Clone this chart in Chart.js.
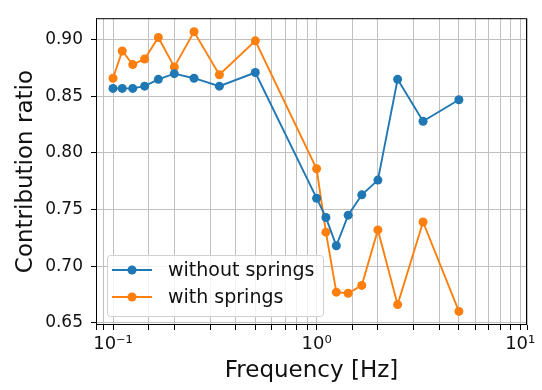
<!DOCTYPE html>
<html>
<head>
    <script src="https://cdn.jsdelivr.net/npm/chart.js"></script>
    <style>
        body { margin: 0; background: #fff; }
        #wrap { width: 542px; height: 390px; }
    </style>
</head>
<body>
<div id="wrap"><canvas id="chart" width="542" height="390"></canvas></div>

<script>
    // data
    var freq = [0.1, 0.111, 0.125, 0.143, 0.167, 0.2, 0.25, 0.333, 0.5, 1.0, 1.111, 1.25, 1.429, 1.667, 2.0, 2.5, 3.333, 5.0];
    var withoutSprings = [0.857, 0.857, 0.857, 0.859, 0.865, 0.870, 0.866, 0.859, 0.871, 0.760, 0.743, 0.718, 0.745, 0.763, 0.776, 0.865, 0.828, 0.847];
    var withSprings = [0.866, 0.890, 0.878, 0.883, 0.902, 0.876, 0.907, 0.869, 0.899, 0.786, 0.730, 0.677, 0.676, 0.683, 0.732, 0.666, 0.739, 0.660];
    var seriesNames = ['without springs', 'with springs'];
    var colors = ['#1f77b4', '#ff7f0e'];
    var xMajorLabels = { '0.1': '10⁻¹', '1': '10⁰', '10': '10¹' };

    var font = 'DejaVu Sans';

    function pts(ys) {
        return freq.map(function (f, i) { return { x: f, y: ys[i] }; });
    }

    // frame + legend drawn inside plot area like matplotlib
    var framePlugin = {
        id: 'frame',
        afterDraw: function (chart) {
            var ctx = chart.ctx, a = chart.chartArea;
            ctx.save();
            ctx.strokeStyle = '#000';
            ctx.lineWidth = 1;
            ctx.strokeRect(a.left + 0.5, a.top + 0.5, a.right - a.left - 1, a.bottom - a.top - 1);

            // legend box
            var bx = 107, by = 255, bw = 216, bh = 61;
            ctx.fillStyle = 'rgba(255,255,255,0.8)';
            ctx.strokeStyle = '#d0d0d0';
            ctx.beginPath();
            ctx.roundRect(bx + 0.5, by + 0.5, bw, bh, 3);
            ctx.fill();
            ctx.stroke();
            ctx.font = '19px "' + font + '"';
            ctx.textBaseline = 'middle';
            for (var i = 0; i < seriesNames.length; i++) {
                var cy = by + 15 + i * 27;
                ctx.strokeStyle = colors[i];
                ctx.lineWidth = 1.8;
                ctx.beginPath();
                ctx.moveTo(112, cy);
                ctx.lineTo(152, cy);
                ctx.stroke();
                ctx.fillStyle = colors[i];
                ctx.beginPath();
                ctx.arc(132, cy, 4.5, 0, Math.PI * 2);
                ctx.fill();
                ctx.fillStyle = '#111';
                ctx.fillText(seriesNames[i], 168, cy + 1);
            }
            ctx.restore();
        }
    };

    var ctx = document.getElementById('chart').getContext('2d');
    var chart = new Chart(ctx, {
        type: 'line',
        data: {
            datasets: [
                { label: seriesNames[0], data: pts(withoutSprings), borderColor: colors[0], backgroundColor: colors[0],
                  borderWidth: 1.9, pointRadius: 4.5, pointBorderWidth: 0, tension: 0 },
                { label: seriesNames[1], data: pts(withSprings), borderColor: colors[1], backgroundColor: colors[1],
                  borderWidth: 1.9, pointRadius: 4.5, pointBorderWidth: 0, tension: 0 }
            ]
        },
        options: {
            responsive: false,
            animation: false,
            layout: { padding: { top: 4, right: 15, left: 0, bottom: 0 } },
            plugins: { legend: { display: false }, tooltip: { enabled: false } },
            scales: {
                x: {
                    type: 'logarithmic',
                    min: 0.0825,
                    max: 10.8,
                    grid: { color: '#c0c0c0', tickColor: '#000', tickLength: 5, lineWidth: 1 },
                    border: { display: false },
                    ticks: {
                        autoSkip: false,
                        maxRotation: 0,
                        padding: 4,
                        color: '#111',
                        font: { family: font, size: 18 },
                        callback: function (v) {
                            var k = String(Math.round(v * 1000) / 1000);
                            return xMajorLabels[k] || '';
                        }
                    },
                    title: { display: true, text: 'Frequency [Hz]', color: '#111',
                             font: { family: font, size: 23 }, padding: { top: 0, bottom: 5 } },
                    afterFit: function (s) { s.height = 65; }
                },
                y: {
                    min: 0.648,
                    max: 0.919,
                    grid: { color: '#c0c0c0', tickColor: '#000', tickLength: 5 },
                    border: { display: false },
                    ticks: {
                        stepSize: 0.05,
                        includeBounds: false,
                        padding: 8,
                        color: '#111',
                        font: { family: font, size: 17 },
                        callback: function (v) { return v.toFixed(2); }
                    },
                    title: { display: true, text: 'Contribution ratio', color: '#111',
                             font: { family: font, size: 23 }, padding: { top: 12, bottom: 0 } },
                    afterFit: function (s) { s.width = 96; }
                }
            }
        },
        plugins: [framePlugin]
    });
</script>
</body>
</html>
